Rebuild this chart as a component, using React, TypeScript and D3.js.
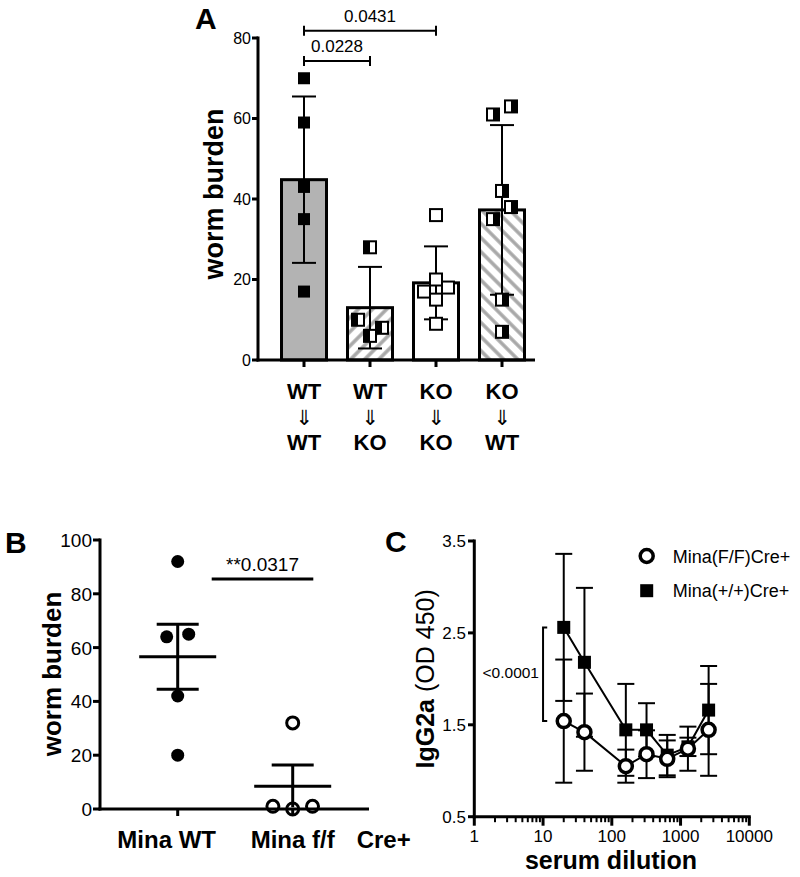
import React from "react";
import * as d3 from "d3";

const FONT = "'Liberation Sans', Arial, Helvetica, sans-serif";

// ---------- Panel A data ----------
const donorLabels = ["WT", "WT", "KO", "KO"];
const recipientLabels = ["WT", "KO", "KO", "WT"];
const wormA = [
  [70, 59, 43, 35, 17],
  [28, 10, 6, 8],
  [36, 20, 17, 18, 15, 9],
  [61, 63, 42, 38, 35, 15, 7],
];
const jitterA = [
  [0, 0, 0, 0, 0],
  [0, -1, 0, 1],
  [0, 0, -1, 1, 0, 0],
  [-0.75, 0.75, 0, 0.75, -0.75, 0, 0],
];
const barFillA = ["gray", "hatchUp", "white", "hatchDown"];
const markerA = ["filled", "halfLeft", "open", "halfRight"];
const yTicksA = [0, 20, 40, 60, 80];
const compA = [
  { from: 0, to: 1, label: "0.0228", y: 74.3 },
  { from: 0, to: 2, label: "0.0431", y: 81.8 },
];

// ---------- Panel B data ----------
const groupsB = ["Mina WT", "Mina f/f"];
const wormB = [
  [92, 64, 65, 42, 20],
  [32, 1, 0, 1],
];
const jitterB = [
  [0, -1, 1, 0, 0],
  [0, -1.8, 0, 1.8],
];
const yTicksB = [0, 20, 40, 60, 80, 100];
const sigB = { label: "**0.0317", y: 85.5 };

// ---------- Panel C data ----------
const dilutions = [20, 40, 160, 320, 640, 1280, 2560];
const ffMean = [1.54, 1.42, 1.05, 1.18, 1.13, 1.24, 1.445];
const ffErr = [0.67, 0.42, 0.18, 0.26, 0.2, 0.24, 0.5];
const wtMean = [2.56, 2.18, 1.445, 1.445, 1.17, 1.26, 1.66];
const wtErr = [0.8, 0.81, 0.5, 0.29, 0.22, 0.1, 0.48];
const yTicksC = [0.5, 1.5, 2.5, 3.5];
const xTicksC = [1, 10, 100, 1000, 10000];
const seriesC = ["Mina(F/F)Cre+", "Mina(+/+)Cre+"];

const sd = (v: number[]) => d3.deviation(v) ?? 0;

function Square({ cx, cy, kind, s = 12 }: any) {
  const x = cx - s / 2;
  const y = cy - s / 2;
  if (kind === "filled")
    return <rect x={x} y={y} width={s} height={s} fill="#000" />;
  return (
    <g>
      <rect x={x} y={y} width={s} height={s} fill="#fff" stroke="#000" strokeWidth={2} />
      {kind === "halfLeft" && <rect x={x} y={y} width={s / 2} height={s} fill="#000" />}
      {kind === "halfRight" && <rect x={cx} y={y} width={s / 2} height={s} fill="#000" />}
    </g>
  );
}

export default function App() {
  // Panel A scales
  const xA = d3.scalePoint<number>().domain([0, 1, 2, 3]).range([271, 535]).padding(0.5);
  const yA = d3.scaleLinear().domain([0, 80]).range([360, 38]);
  const barW = 45;
  const jStepA = 12;

  // Panel B scales
  const xB = d3.scalePoint<string>().domain(groupsB).range([177.7, 292.7]);
  const yB = d3.scaleLinear().domain([0, 100]).range([809, 540]);

  // Panel C scales
  const xC = d3.scaleLog().domain([1, 10000]).range([474.3, 749.3]);
  const yC = d3.scaleLinear().domain([0.5, 3.5]).range([816.7, 541]);

  const minorC: number[] = [];
  for (let d = 1; d < 10000; d *= 10) for (let k = 2; k <= 9; k++) minorC.push(k * d);

  const lineC = d3
    .line<number>()
    .x((_, i) => xC(dilutions[i]))
    .y((v) => yC(v));

  return (
    <svg
      width={800}
      height={877}
      style={{ position: "absolute", left: 0, top: 0, background: "#fff" }}
      fontFamily={FONT}
    >
      <defs>
        <pattern id="hatchUp" patternUnits="userSpaceOnUse" width={10} height={10} patternTransform="rotate(45)">
          <rect width={10} height={10} fill="#fff" />
          <line x1={2} y1={0} x2={2} y2={10} stroke="#a8a8a8" strokeWidth={3.5} />
        </pattern>
        <pattern id="hatchDown" patternUnits="userSpaceOnUse" width={10} height={10} patternTransform="rotate(-45)">
          <rect width={10} height={10} fill="#fff" />
          <line x1={2} y1={0} x2={2} y2={10} stroke="#a8a8a8" strokeWidth={3.5} />
        </pattern>
      </defs>

      {/* ================= Panel A ================= */}
      <text x={195} y={29} fontSize={30} fontWeight="bold">A</text>
      <text
        transform={`translate(223,194) rotate(-90)`}
        textAnchor="middle"
        fontSize={27}
        fontWeight="bold"
      >
        worm burden
      </text>
      {wormA.map((vals, i) => {
        const m = d3.mean(vals) ?? 0;
        const cx = xA(i)!;
        const fill =
          barFillA[i] === "gray" ? "#b3b3b3" : barFillA[i] === "white" ? "#fff" : `url(#${barFillA[i]})`;
        return (
          <rect
            key={"bar" + i}
            x={cx - barW / 2}
            y={yA(m)}
            width={barW}
            height={yA(0) - yA(m)}
            fill={fill}
            stroke="#000"
            strokeWidth={3}
          />
        );
      })}
      {wormA.map((vals, i) => {
        const m = d3.mean(vals) ?? 0;
        const s = sd(vals);
        const cx = xA(i)!;
        return (
          <g key={"eb" + i} stroke="#000" strokeWidth={2}>
            <line x1={cx} x2={cx} y1={yA(m + s)} y2={yA(m - s)} />
            <line x1={cx - 12} x2={cx + 12} y1={yA(m + s)} y2={yA(m + s)} />
            <line x1={cx - 12} x2={cx + 12} y1={yA(m - s)} y2={yA(m - s)} />
          </g>
        );
      })}
      {wormA.map((vals, i) =>
        vals.map((v, j) => (
          <Square key={`pA${i}-${j}`} cx={xA(i)! + jitterA[i][j] * jStepA} cy={yA(v)} kind={markerA[i]} />
        ))
      )}
      {/* axes A */}
      <g stroke="#000" strokeWidth={3}>
        <line x1={258} x2={258} y1={yA(80) - 1.5} y2={yA(0) + 1.5} />
        <line x1={256.5} x2={535} y1={yA(0)} y2={yA(0)} />
        {yTicksA.map((t) => (
          <line key={"ytA" + t} x1={252} x2={258} y1={yA(t)} y2={yA(t)} />
        ))}
        {wormA.map((_, i) => (
          <line key={"xtA" + i} x1={xA(i)} x2={xA(i)} y1={yA(0)} y2={yA(0) + 7} />
        ))}
      </g>
      {yTicksA.map((t) => (
        <text key={"ylA" + t} x={251} y={yA(t) + 5.5} textAnchor="end" fontSize={16}>
          {t}
        </text>
      ))}
      {donorLabels.map((d, i) => (
        <g key={"xlA" + i} textAnchor="middle">
          <text x={xA(i)} y={399} fontSize={22} fontWeight="bold">{d}</text>
          <text x={xA(i)} y={425} fontSize={21} fill="#000" fontFamily="'DejaVu Sans', sans-serif">⇓</text>
          <text x={xA(i)} y={450} fontSize={22} fontWeight="bold">{recipientLabels[i]}</text>
        </g>
      ))}
      {compA.map((c, k) => {
        const x1 = xA(c.from)!;
        const x2 = xA(c.to)!;
        const y = yA(c.y);
        return (
          <g key={"cmp" + k}>
            <g stroke="#000" strokeWidth={2}>
              <line x1={x1} x2={x2} y1={y} y2={y} />
              <line x1={x1} x2={x1} y1={y - 5} y2={y + 5} />
              <line x1={x2} x2={x2} y1={y - 5} y2={y + 5} />
            </g>
            <text x={(x1 + x2) / 2} y={y - 9} textAnchor="middle" fontSize={17}>
              {c.label}
            </text>
          </g>
        );
      })}

      {/* ================= Panel B ================= */}
      <text x={5} y={553} fontSize={30} fontWeight="bold">B</text>
      <text
        transform={`translate(61,674) rotate(-90)`}
        textAnchor="middle"
        fontSize={26}
        fontWeight="bold"
      >
        worm burden
      </text>
      {wormB.map((vals, i) =>
        vals.map((v, j) =>
          i === 0 ? (
            <circle key={`pB${i}-${j}`} cx={xB(groupsB[i])! + jitterB[i][j] * 11} cy={yB(v)} r={6.5} fill="#000" />
          ) : (
            <circle
              key={`pB${i}-${j}`}
              cx={xB(groupsB[i])! + jitterB[i][j] * 11}
              cy={yB(v)}
              r={6}
              fill="none"
              stroke="#000"
              strokeWidth={3}
            />
          )
        )
      )}
      {wormB.map((vals, i) => {
        const m = d3.mean(vals) ?? 0;
        const se = sd(vals) / Math.sqrt(vals.length);
        const cx = xB(groupsB[i])!;
        return (
          <g key={"mB" + i} stroke="#000" strokeWidth={3}>
            <line x1={cx - 38.5} x2={cx + 38.5} y1={yB(m)} y2={yB(m)} />
            <line x1={cx} x2={cx} y1={yB(m + se)} y2={yB(Math.max(0, m - se))} />
            <line x1={cx - 21} x2={cx + 21} y1={yB(m + se)} y2={yB(m + se)} />
            {m - se > 2 && <line x1={cx - 21} x2={cx + 21} y1={yB(m - se)} y2={yB(m - se)} />}
          </g>
        );
      })}
      <g stroke="#000" strokeWidth={3}>
        <line x1={100} x2={100} y1={yB(100) - 1.5} y2={yB(0) + 1.5} />
        <line x1={98.5} x2={369} y1={yB(0)} y2={yB(0)} />
        {yTicksB.map((t) => (
          <line key={"ytB" + t} x1={93} x2={100} y1={yB(t)} y2={yB(t)} />
        ))}
        {groupsB.map((g) => (
          <line key={"xtB" + g} x1={xB(g)} x2={xB(g)} y1={yB(0)} y2={yB(0) + 7} />
        ))}
        <line x1={211.7} x2={313.3} y1={yB(sigB.y)} y2={yB(sigB.y)} />
      </g>
      {yTicksB.map((t) => (
        <text key={"ylB" + t} x={92} y={yB(t) + 7} textAnchor="end" fontSize={19}>
          {t}
        </text>
      ))}
      <text x={262.5} y={yB(sigB.y) - 8} textAnchor="middle" fontSize={19}>
        {sigB.label}
      </text>
      <text x={xB(groupsB[0])! - 11} y={848} textAnchor="middle" fontSize={24} fontWeight="bold">
        {groupsB[0]}
      </text>
      <text x={xB(groupsB[1])!} y={848} textAnchor="middle" fontSize={24} fontWeight="bold">
        {groupsB[1]}
      </text>
      <text x={xB(groupsB[1])! + 64} y={848} fontSize={24} fontWeight="bold">
        Cre+
      </text>

      {/* ================= Panel C ================= */}
      <text x={385} y={552} fontSize={30} fontWeight="bold">C</text>
      <text
        transform={`translate(434,${(yC(0.5) + yC(3.5)) / 2}) rotate(-90)`}
        textAnchor="middle"
        fontSize={25}
      >
        <tspan fontWeight="bold">IgG2a</tspan>
        <tspan> (OD 450)</tspan>
      </text>
      <text x={611} y={869} textAnchor="middle" fontSize={25} fontWeight="bold">
        serum dilution
      </text>
      {/* error bars */}
      {[wtMean, ffMean].map((means, s) => {
        const errs = s === 0 ? wtErr : ffErr;
        return means.map((m, i) => {
          const cx = xC(dilutions[i]);
          return (
            <g key={`ebC${s}-${i}`} stroke="#000" strokeWidth={2}>
              <line x1={cx} x2={cx} y1={yC(m + errs[i])} y2={yC(m - errs[i])} />
              <line x1={cx - 8.5} x2={cx + 8.5} y1={yC(m + errs[i])} y2={yC(m + errs[i])} />
              <line x1={cx - 8.5} x2={cx + 8.5} y1={yC(m - errs[i])} y2={yC(m - errs[i])} />
            </g>
          );
        });
      })}
      <path d={lineC(wtMean) ?? ""} fill="none" stroke="#000" strokeWidth={2} />
      <path d={lineC(ffMean) ?? ""} fill="none" stroke="#000" strokeWidth={2} />
      {wtMean.map((m, i) => (
        <rect key={"sqC" + i} x={xC(dilutions[i]) - 6.5} y={yC(m) - 6.5} width={13} height={13} fill="#000" />
      ))}
      {ffMean.map((m, i) => (
        <circle key={"ciC" + i} cx={xC(dilutions[i])} cy={yC(m)} r={6.5} fill="#fff" stroke="#000" strokeWidth={3.5} />
      ))}
      {/* significance bracket */}
      <g stroke="#000" strokeWidth={2} fill="none">
        <path
          d={`M${xC(11.5)},${yC(wtMean[0])} H${xC(10)} V${yC(ffMean[0])} H${xC(11.5)}`}
        />
      </g>
      <text x={539} y={678.3} textAnchor="end" fontSize={15.5}>
        {"<0.0001"}
      </text>
      {/* axes C */}
      <g stroke="#000">
        <line x1={474.3} x2={474.3} y1={yC(3.5) - 1.5} y2={yC(0.5) + 1.5} strokeWidth={3} />
        <line x1={472.8} x2={750.8} y1={yC(0.5)} y2={yC(0.5)} strokeWidth={3} />
        {yTicksC.map((t) => (
          <line key={"ytC" + t} x1={468} x2={474.3} y1={yC(t)} y2={yC(t)} strokeWidth={3} />
        ))}
        {xTicksC.map((t) => (
          <line key={"xtC" + t} x1={xC(t)} x2={xC(t)} y1={yC(0.5)} y2={yC(0.5) + 9} strokeWidth={3} />
        ))}
        {minorC.map((t) => (
          <line key={"mtC" + t} x1={xC(t)} x2={xC(t)} y1={yC(0.5)} y2={yC(0.5) + 5.5} strokeWidth={2} />
        ))}
      </g>
      {yTicksC.map((t) => (
        <text key={"ylC" + t} x={466} y={yC(t) + 6} textAnchor="end" fontSize={17}>
          {t.toFixed(1)}
        </text>
      ))}
      {xTicksC.map((t) => (
        <text key={"xlC" + t} x={xC(t)} y={841.7} textAnchor="middle" fontSize={17}>
          {t}
        </text>
      ))}
      {/* legend */}
      <circle cx={646.7} cy={556} r={6.5} fill="#fff" stroke="#000" strokeWidth={3.5} />
      <text x={672.7} y={562.5} fontSize={18}>{seriesC[0]}</text>
      <rect x={640.2} y={584.2} width={13} height={13} fill="#000" />
      <text x={672.7} y={596.7} fontSize={18}>{seriesC[1]}</text>
    </svg>
  );
}
